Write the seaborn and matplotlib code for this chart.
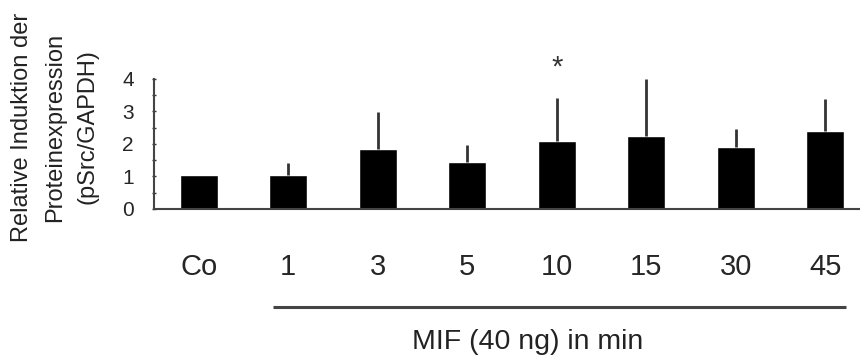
import matplotlib
matplotlib.use("Agg")
import matplotlib.pyplot as plt
from matplotlib.ticker import MultipleLocator, FixedLocator
import numpy as np
import seaborn as sns

# Werte
kategorien = ["Co", "1", "3", "5", "10", "15", "30", "45"]
mittelwerte = [1.04, 1.04, 1.85, 1.45, 2.10, 2.26, 1.90, 2.41]
fehler_oben = [0.0, 0.38, 1.13, 0.52, 1.31, 1.73, 0.55, 0.97]
signifikant = ["", "", "", "", "*", "", "", ""]

ylabel = "Relative Induktion der\nProteinexpression\n(pSrc/GAPDH)"
xlabel = "MIF (40 ng) in min"

sns.set_style("white")
plt.rcParams["font.family"] = ["Liberation Sans", "DejaVu Sans"]

fig = plt.figure(figsize=(8.6, 3.59), dpi=100)
ax = fig.add_axes([154 / 860, 1 - 209 / 359, 706 / 860, 159 / 359])

sns.barplot(x=kategorien, y=mittelwerte, color="black", saturation=1,
            width=0.425, errorbar=None, ax=ax)
pos = np.arange(len(kategorien))
ax.errorbar(pos, mittelwerte, yerr=[np.zeros(len(pos)), fehler_oben],
            fmt="none", ecolor="#333333", elinewidth=2, capsize=0, zorder=1)

for x, s in zip(pos, signifikant):
    if s:
        ax.text(x, 4.09, s, ha="center", va="baseline", fontsize=21, color="#333333")

ax.set_xlim(-0.5, 7.39)
ax.set_ylim(0, 4.89)
ax.yaxis.set_major_locator(MultipleLocator(1))
ax.yaxis.set_minor_locator(FixedLocator([0.5, 1.5, 2.5, 3.5]))
ax.tick_params(axis="y", which="both", direction="inout", length=3, width=1,
               color="#333333", labelsize=15, pad=13, left=True)
ax.tick_params(axis="x", length=0, labelsize=21, pad=32)
ax.set_xlabel("")
ax.set_ylabel("")

sns.despine(ax=ax)
ax.spines["left"].set_bounds(0, 4)
for sp in ("left", "bottom"):
    ax.spines[sp].set_color("#444444")
    ax.spines[sp].set_linewidth(1.5)

# Linie unter den MIF-Zeitpunkten
trans = ax.get_xaxis_transform()
ax.plot([0.83, 7.23], [-0.616, -0.616], transform=trans, color="#444444",
        lw=2.2, clip_on=False, solid_capstyle="butt")
ax.text(3.67, -0.88, xlabel, transform=trans, ha="center", va="baseline",
        fontsize=20.5, color="#222222")

fig.text(55 / 860, 1 - 127 / 359, ylabel, rotation=90, ha="center", va="center",
         multialignment="center", fontsize=17, linespacing=1.62, color="#222222")

fig.savefig("out.png", dpi=100)
